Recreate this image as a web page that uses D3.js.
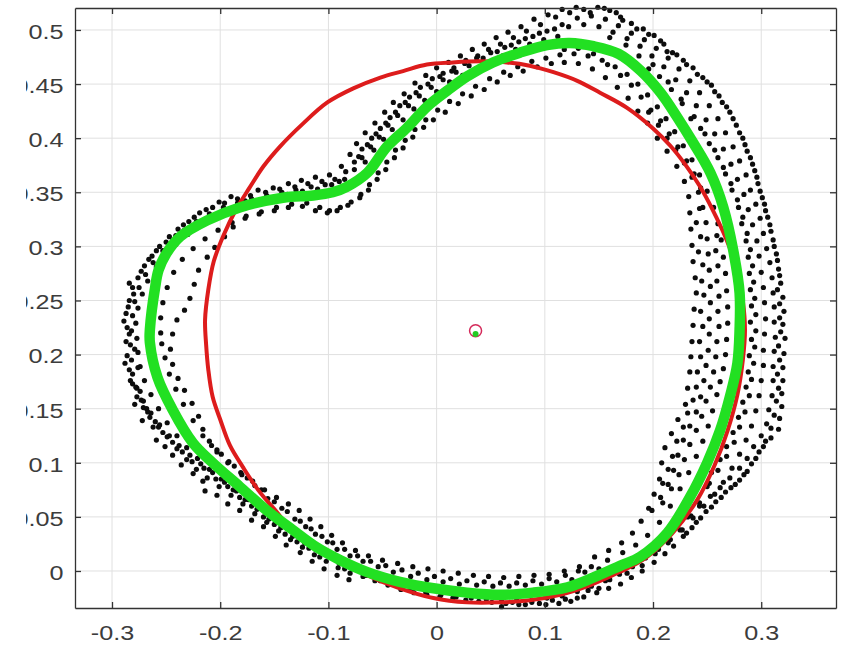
<!DOCTYPE html>
<html>
<head>
<meta charset="utf-8">
<script src="https://cdn.jsdelivr.net/npm/d3@7"></script>
<style>
    body { margin: 0; background: #fff; }
    .tick text { font-family: "Liberation Sans", Arial, sans-serif; font-size: 21px; fill: #3c3c3c; }
</style>
</head>
<body>
<div id="plotDivId"></div>
<script>
// Tick values
var xTicks = [-0.3, -0.2, -0.1, 0, 0.1, 0.2, 0.3];
var yTicks = [0, 0.05, 0.1, 0.15, 0.2, 0.25, 0.3, 0.35, 0.4, 0.45, 0.5];

// Fitted contour (green)
var greenCurve = [[-0.265,0.223],[-0.260,0.263],[-0.257,0.278],[-0.250,0.293],[-0.237,0.309],[-0.212,0.324],[-0.182,0.336],[-0.142,0.345],[-0.114,0.347],[-0.096,0.350],[-0.083,0.355],[-0.064,0.368],[-0.046,0.392],[-0.027,0.410],[-0.009,0.429],[0.010,0.444],[0.028,0.457],[0.052,0.470],[0.077,0.479],[0.102,0.486],[0.123,0.488],[0.145,0.485],[0.168,0.478],[0.189,0.462],[0.207,0.442],[0.222,0.420],[0.237,0.396],[0.253,0.368],[0.265,0.336],[0.274,0.297],[0.280,0.257],[0.280,0.223],[0.278,0.192],[0.271,0.161],[0.262,0.130],[0.250,0.100],[0.234,0.068],[0.213,0.035],[0.188,0.013],[0.170,0.005],[0.145,-0.006],[0.121,-0.015],[0.089,-0.020],[0.059,-0.022],[0.028,-0.020],[-0.003,-0.016],[-0.034,-0.010],[-0.064,-0.001],[-0.089,0.010],[-0.111,0.022],[-0.133,0.038],[-0.157,0.056],[-0.182,0.078],[-0.207,0.100],[-0.225,0.118],[-0.244,0.149],[-0.258,0.179],[-0.265,0.211]];

// Low order contour (red)
var redCurve = [[-0.214,0.232],[-0.211,0.260],[-0.206,0.286],[-0.197,0.310],[-0.186,0.333],[-0.173,0.354],[-0.160,0.374],[-0.145,0.392],[-0.124,0.413],[-0.101,0.433],[-0.077,0.446],[-0.052,0.456],[-0.031,0.462],[-0.009,0.468],[0.015,0.470],[0.040,0.471],[0.065,0.470],[0.086,0.467],[0.108,0.461],[0.130,0.453],[0.151,0.442],[0.176,0.428],[0.200,0.409],[0.216,0.393],[0.231,0.374],[0.243,0.356],[0.255,0.334],[0.268,0.306],[0.278,0.278],[0.283,0.250],[0.285,0.223],[0.283,0.195],[0.278,0.163],[0.269,0.130],[0.257,0.098],[0.241,0.066],[0.218,0.035],[0.193,0.012],[0.169,-0.001],[0.142,-0.013],[0.114,-0.022],[0.086,-0.027],[0.059,-0.029],[0.028,-0.029],[-0.003,-0.025],[-0.034,-0.016],[-0.064,-0.004],[-0.089,0.009],[-0.114,0.024],[-0.136,0.041],[-0.149,0.056],[-0.165,0.075],[-0.179,0.096],[-0.191,0.116],[-0.200,0.140],[-0.207,0.161],[-0.211,0.186],[-0.213,0.209]];

// Centres
var centerRed = [0.036, 0.222];
var centerGreen = [0.036, 0.219];

// Measured points, grouped by region of the band
var scatterOuter = [[-0.286,0.225],[-0.287,0.238],[-0.284,0.250],[-0.281,0.262],[-0.276,0.271],[-0.270,0.282],[-0.263,0.291],[-0.256,0.300],[-0.247,0.309],[-0.239,0.316],[-0.229,0.323],[-0.219,0.331],[-0.207,0.336],[-0.196,0.340],[-0.184,0.344],[-0.172,0.347],[-0.158,0.350],[-0.145,0.353],[-0.131,0.355],[-0.119,0.358],[-0.106,0.360],[-0.094,0.362],[-0.084,0.369],[-0.076,0.378],[-0.069,0.390],[-0.060,0.400],[-0.052,0.409],[-0.043,0.419],[-0.034,0.430],[-0.025,0.438],[-0.015,0.447],[-0.004,0.455],[0.006,0.460],[0.016,0.465],[0.027,0.472],[0.038,0.476],[0.048,0.482],[0.059,0.487],[0.071,0.493],[0.083,0.499],[0.096,0.505],[0.110,0.512],[0.123,0.516],[0.136,0.519],[0.149,0.521],[0.160,0.518],[0.170,0.512],[0.180,0.506],[0.191,0.501],[0.201,0.495],[0.210,0.487],[0.218,0.479],[0.228,0.472],[0.237,0.465],[0.246,0.456],[0.254,0.449],[0.261,0.439],[0.268,0.429],[0.274,0.418],[0.280,0.405],[0.285,0.394],[0.290,0.382],[0.294,0.370],[0.297,0.358],[0.301,0.345],[0.304,0.333],[0.308,0.320],[0.311,0.306],[0.314,0.293],[0.316,0.279],[0.318,0.266],[0.320,0.253],[0.321,0.240],[0.320,0.228],[0.322,0.215],[0.321,0.201],[0.320,0.188],[0.320,0.176],[0.319,0.164],[0.319,0.152],[0.317,0.141],[0.316,0.131],[0.309,0.123],[0.302,0.115],[0.295,0.104],[0.287,0.092],[0.280,0.084],[0.272,0.077],[0.263,0.068],[0.254,0.059],[0.244,0.049],[0.236,0.040],[0.228,0.032],[0.219,0.023],[0.211,0.016],[0.201,0.008],[0.190,0.000],[0.180,-0.006],[0.170,-0.012],[0.159,-0.016],[0.148,-0.020],[0.136,-0.024],[0.124,-0.028],[0.113,-0.030],[0.101,-0.031],[0.088,-0.029],[0.076,-0.031],[0.064,-0.030],[0.060,-0.033],[0.051,-0.029],[0.039,-0.028],[0.027,-0.027],[0.015,-0.025],[0.003,-0.024],[-0.009,-0.022],[-0.021,-0.020],[-0.033,-0.017],[-0.045,-0.013],[-0.057,-0.009],[-0.068,-0.005],[-0.080,-0.002],[-0.091,0.003],[-0.102,0.009],[-0.113,0.015],[-0.124,0.022],[-0.135,0.029],[-0.146,0.037],[-0.157,0.045],[-0.168,0.053],[-0.179,0.062],[-0.190,0.070],[-0.201,0.078],[-0.212,0.086],[-0.222,0.094],[-0.231,0.103],[-0.240,0.113],[-0.249,0.124],[-0.257,0.133],[-0.265,0.142],[-0.271,0.151],[-0.277,0.161],[-0.281,0.173],[-0.284,0.186],[-0.286,0.199],[-0.287,0.212]];

var scatterOuterMid = [[-0.277,0.215],[-0.278,0.229],[-0.276,0.243],[-0.272,0.256],[-0.267,0.268],[-0.259,0.281],[-0.251,0.292],[-0.241,0.302],[-0.230,0.311],[-0.218,0.320],[-0.206,0.327],[-0.193,0.333],[-0.180,0.337],[-0.166,0.341],[-0.152,0.345],[-0.138,0.348],[-0.124,0.351],[-0.110,0.353],[-0.097,0.357],[-0.085,0.362],[-0.076,0.371],[-0.069,0.382],[-0.061,0.392],[-0.053,0.401],[-0.045,0.412],[-0.036,0.421],[-0.026,0.430],[-0.016,0.439],[-0.005,0.447],[0.006,0.454],[0.018,0.461],[0.030,0.467],[0.043,0.474],[0.056,0.480],[0.069,0.486],[0.082,0.492],[0.095,0.497],[0.109,0.501],[0.122,0.503],[0.136,0.505],[0.150,0.503],[0.163,0.498],[0.176,0.492],[0.188,0.485],[0.199,0.476],[0.210,0.466],[0.221,0.454],[0.231,0.442],[0.240,0.430],[0.249,0.417],[0.257,0.404],[0.265,0.390],[0.272,0.376],[0.278,0.362],[0.284,0.348],[0.288,0.334],[0.292,0.320],[0.296,0.305],[0.298,0.291],[0.300,0.276],[0.302,0.262],[0.303,0.248],[0.304,0.233],[0.303,0.219],[0.302,0.204],[0.302,0.190],[0.300,0.176],[0.298,0.162],[0.295,0.148],[0.291,0.134],[0.286,0.121],[0.280,0.108],[0.273,0.095],[0.265,0.082],[0.257,0.071],[0.247,0.060],[0.237,0.049],[0.227,0.038],[0.216,0.029],[0.205,0.020],[0.193,0.012],[0.181,0.004],[0.169,-0.003],[0.156,-0.009],[0.143,-0.014],[0.130,-0.019],[0.116,-0.023],[0.102,-0.025],[0.088,-0.027],[0.074,-0.027],[0.060,-0.028],[0.046,-0.026],[0.032,-0.025],[0.018,-0.024],[0.004,-0.022],[-0.010,-0.020],[-0.024,-0.017],[-0.038,-0.013],[-0.052,-0.009],[-0.065,-0.004],[-0.078,0.002],[-0.090,0.007],[-0.101,0.014],[-0.112,0.020],[-0.122,0.026],[-0.133,0.032],[-0.144,0.040],[-0.155,0.048],[-0.166,0.057],[-0.177,0.066],[-0.188,0.075],[-0.199,0.085],[-0.210,0.094],[-0.221,0.104],[-0.231,0.114],[-0.240,0.125],[-0.249,0.137],[-0.257,0.150],[-0.264,0.163],[-0.270,0.176],[-0.274,0.189],[-0.276,0.202]];

var scatterInner = [[-0.255,0.220],[-0.255,0.234],[-0.253,0.248],[-0.249,0.262],[-0.243,0.276],[-0.235,0.288],[-0.225,0.298],[-0.214,0.307],[-0.202,0.315],[-0.189,0.322],[-0.176,0.328],[-0.162,0.332],[-0.148,0.336],[-0.134,0.339],[-0.120,0.340],[-0.108,0.336],[-0.099,0.333],[-0.089,0.336],[-0.079,0.341],[-0.070,0.348],[-0.062,0.357],[-0.054,0.368],[-0.046,0.378],[-0.038,0.389],[-0.029,0.398],[-0.020,0.408],[-0.010,0.417],[0.001,0.426],[0.012,0.434],[0.024,0.441],[0.036,0.448],[0.049,0.455],[0.062,0.461],[0.075,0.466],[0.088,0.471],[0.101,0.474],[0.114,0.477],[0.127,0.478],[0.140,0.476],[0.153,0.472],[0.165,0.466],[0.176,0.459],[0.186,0.450],[0.195,0.440],[0.204,0.429],[0.212,0.418],[0.220,0.406],[0.228,0.393],[0.236,0.380],[0.243,0.366],[0.250,0.351],[0.256,0.336],[0.260,0.321],[0.263,0.306],[0.265,0.290],[0.267,0.275],[0.268,0.259],[0.269,0.244],[0.269,0.229],[0.268,0.214],[0.267,0.200],[0.265,0.187],[0.262,0.175],[0.259,0.163],[0.255,0.148],[0.251,0.134],[0.246,0.120],[0.240,0.106],[0.233,0.091],[0.225,0.076],[0.216,0.060],[0.206,0.045],[0.195,0.033],[0.184,0.024],[0.172,0.017],[0.158,0.010],[0.143,0.004],[0.131,0.000],[0.119,-0.004],[0.104,-0.007],[0.089,-0.009],[0.074,-0.011],[0.059,-0.011],[0.044,-0.010],[0.028,-0.009],[0.013,-0.007],[-0.002,-0.005],[-0.017,-0.002],[-0.032,0.001],[-0.047,0.005],[-0.061,0.009],[-0.073,0.014],[-0.085,0.020],[-0.096,0.026],[-0.106,0.032],[-0.116,0.039],[-0.126,0.046],[-0.138,0.055],[-0.150,0.064],[-0.162,0.075],[-0.175,0.086],[-0.187,0.097],[-0.199,0.108],[-0.208,0.116],[-0.216,0.125],[-0.225,0.139],[-0.234,0.154],[-0.241,0.168],[-0.247,0.182],[-0.251,0.197],[-0.254,0.210]];

var scatterInnerLap = [[-0.246,0.205],[-0.244,0.219],[-0.240,0.232],[-0.233,0.241],[-0.228,0.252],[-0.224,0.265],[-0.220,0.278],[-0.212,0.290],[-0.205,0.299],[-0.196,0.309],[-0.188,0.318],[-0.177,0.326],[-0.164,0.330],[-0.150,0.333],[-0.137,0.336],[-0.124,0.337],[-0.112,0.333],[-0.101,0.331],[-0.092,0.333],[-0.082,0.338],[-0.071,0.345],[-0.063,0.352],[-0.055,0.362],[-0.047,0.371],[-0.039,0.382],[-0.031,0.391],[-0.022,0.401],[-0.012,0.410],[-0.003,0.417],[0.008,0.424],[0.020,0.432],[0.032,0.439],[0.044,0.445],[0.056,0.452],[0.068,0.458],[0.080,0.462],[0.093,0.466],[0.106,0.469],[0.118,0.470],[0.131,0.469],[0.144,0.464],[0.156,0.456],[0.167,0.447],[0.177,0.437],[0.186,0.425],[0.195,0.414],[0.204,0.400],[0.213,0.388],[0.222,0.374],[0.229,0.360],[0.233,0.346],[0.234,0.331],[0.235,0.316],[0.236,0.301],[0.237,0.286],[0.239,0.271],[0.240,0.257],[0.238,0.242],[0.237,0.227],[0.236,0.212],[0.235,0.198],[0.234,0.184],[0.232,0.169],[0.230,0.154],[0.223,0.140],[0.217,0.127],[0.211,0.114],[0.208,0.100],[0.206,0.085],[0.201,0.071],[0.196,0.058],[0.189,0.046],[0.181,0.035],[0.171,0.026],[0.159,0.019],[0.146,0.013],[0.132,0.004],[0.118,0.000],[0.104,-0.003],[0.090,-0.004],[0.076,-0.005],[0.062,-0.006],[0.048,-0.005],[0.034,-0.004],[0.020,-0.002],[0.006,0.000],[-0.008,0.002],[-0.022,0.004],[-0.036,0.007],[-0.050,0.010],[-0.063,0.014],[-0.075,0.019],[-0.087,0.026],[-0.097,0.033],[-0.107,0.041],[-0.117,0.048],[-0.127,0.056],[-0.137,0.062],[-0.148,0.068],[-0.159,0.075],[-0.170,0.083],[-0.181,0.091],[-0.193,0.100],[-0.203,0.110],[-0.210,0.120],[-0.216,0.131],[-0.220,0.143],[-0.226,0.155],[-0.233,0.167],[-0.239,0.178],[-0.244,0.191]];

var scatterRight = [[0.130,0.511],[0.143,0.513],[0.156,0.510],[0.168,0.504],[0.180,0.497],[0.192,0.491],[0.203,0.483],[0.214,0.474],[0.224,0.464],[0.234,0.453],[0.243,0.442],[0.252,0.430],[0.260,0.418],[0.267,0.405],[0.274,0.392],[0.280,0.379],[0.286,0.366],[0.290,0.352],[0.295,0.339],[0.299,0.326],[0.302,0.312],[0.305,0.298],[0.308,0.285],[0.310,0.271],[0.311,0.257],[0.312,0.244],[0.312,0.230],[0.313,0.216],[0.312,0.203],[0.311,0.189],[0.311,0.176],[0.310,0.162],[0.307,0.149],[0.305,0.136],[0.300,0.125],[0.293,0.115],[0.287,0.104],[0.280,0.095],[0.271,0.086],[0.262,0.077],[0.253,0.069],[0.243,0.060],[0.232,0.050],[0.222,0.040],
    [0.200,0.468],[0.214,0.452],[0.226,0.436],[0.238,0.420],[0.248,0.404],[0.257,0.389],[0.265,0.373],[0.272,0.358],[0.278,0.343],[0.283,0.327],[0.287,0.312],[0.290,0.297],[0.292,0.282],[0.293,0.267],[0.294,0.252],[0.295,0.237],[0.295,0.222],[0.294,0.207],[0.293,0.192],[0.291,0.177],[0.289,0.162],[0.285,0.147],[0.280,0.133],[0.275,0.119],[0.268,0.106],[0.260,0.093],[0.252,0.081],
    [0.196,0.424],[0.205,0.412],[0.213,0.400],[0.221,0.389],[0.229,0.377],[0.236,0.364],[0.242,0.350],[0.246,0.336],[0.249,0.322],[0.250,0.307],[0.251,0.293],[0.252,0.278],[0.253,0.263],[0.253,0.248],[0.252,0.233],[0.252,0.219],[0.251,0.204],[0.249,0.190],[0.247,0.176],[0.244,0.161],[0.240,0.147],[0.234,0.134],[0.228,0.121],[0.223,0.107],[0.219,0.093],[0.214,0.080],[0.207,0.068],[0.199,0.056]];

var scatterLeft = [[-0.282,0.195],[-0.283,0.209],[-0.282,0.222],[-0.281,0.236],[-0.279,0.249],[-0.275,0.262],[-0.269,0.274],[-0.262,0.285],[-0.253,0.296],[-0.244,0.305],[-0.233,0.315],[-0.222,0.323],[-0.210,0.330],[-0.197,0.336],[-0.184,0.340],[-0.171,0.344],[-0.157,0.347],[-0.143,0.350],[-0.130,0.352],[-0.116,0.355],[-0.103,0.357],[-0.090,0.360],
    [-0.281,0.182],[-0.277,0.169],[-0.271,0.157],[-0.264,0.146],[-0.256,0.135],[-0.247,0.125],[-0.238,0.116],[-0.228,0.107],[-0.218,0.099],[-0.207,0.091],[-0.196,0.082],[-0.185,0.074],[-0.174,0.066],[-0.163,0.058],[-0.152,0.050],[-0.141,0.043],[-0.130,0.035],[-0.119,0.028],[-0.108,0.021],[-0.097,0.015],
    [-0.072,0.383],[-0.064,0.394],[-0.056,0.404],[-0.047,0.414],[-0.038,0.424],[-0.029,0.433],[-0.019,0.442],[-0.008,0.450],[0.003,0.457],[0.014,0.462],[0.026,0.469],[0.037,0.474],[0.050,0.479],[0.063,0.484],[0.076,0.489],[0.089,0.494],[0.102,0.499],[0.116,0.505]];

var scatterFillLeft = [[-0.289,0.231],[-0.284,0.219],[-0.279,0.205],[-0.288,0.192],[-0.276,0.188],[-0.283,0.176],[-0.274,0.166],[-0.279,0.154],[-0.268,0.150],[-0.272,0.139],[-0.262,0.133],[-0.259,0.121],[-0.251,0.115],[-0.244,0.107],[-0.236,0.098],[-0.225,0.090],[-0.216,0.083],[-0.214,0.074],[-0.203,0.070],[-0.193,0.062],[-0.182,0.056],[-0.171,0.047],[-0.160,0.041],[-0.149,0.032],[-0.139,0.024],[-0.126,0.017],[-0.115,0.009],[-0.104,0.002],[-0.092,-0.004],[-0.081,-0.008],
    [-0.285,0.244],[-0.280,0.256],[-0.284,0.266],[-0.273,0.277],[-0.266,0.288],[-0.259,0.296],[-0.250,0.304],[-0.241,0.310],[-0.234,0.320],[-0.224,0.327],[-0.213,0.334],[-0.201,0.341],[-0.190,0.346],[-0.177,0.342],[-0.165,0.352],[-0.151,0.354],[-0.137,0.358],[-0.125,0.361],[-0.112,0.364],[-0.099,0.366],[-0.088,0.374],[-0.080,0.385],[-0.074,0.395],[-0.066,0.405],[-0.057,0.414],[-0.048,0.424],[-0.040,0.433],[-0.030,0.441],[-0.020,0.451],[-0.010,0.458],[0.000,0.465],[0.011,0.470],[0.022,0.476],[0.033,0.482],[0.044,0.487],[0.055,0.493],[0.066,0.498],[0.078,0.503],[0.090,0.510],[0.103,0.514],[0.116,0.519],[0.129,0.521],[0.142,0.516],[0.155,0.520],[0.166,0.516]];

var scatterFillRight = [[0.172,0.509],[0.185,0.501],[0.196,0.496],[0.207,0.490],[0.213,0.480],[0.222,0.477],[0.231,0.468],[0.241,0.459],[0.250,0.452],[0.257,0.443],[0.264,0.433],[0.271,0.424],[0.277,0.412],[0.283,0.400],[0.287,0.388],[0.292,0.376],[0.296,0.364],[0.299,0.351],[0.303,0.339],[0.306,0.327],[0.309,0.314],[0.312,0.300],[0.315,0.287],[0.317,0.273],[0.315,0.260],[0.317,0.247],[0.317,0.234],[0.318,0.221],[0.316,0.208],[0.317,0.195],[0.315,0.182],[0.316,0.169],[0.314,0.157],[0.312,0.144],[0.309,0.132],[0.304,0.120],[0.298,0.110],[0.291,0.099],[0.284,0.089],[0.276,0.080],[0.267,0.073],[0.258,0.064],[0.249,0.055],[0.240,0.045],[0.231,0.035],
    [0.160,0.493],[0.175,0.486],[0.187,0.476],[0.196,0.464],[0.206,0.457],[0.217,0.445],[0.227,0.432],[0.235,0.418],[0.244,0.409],[0.252,0.395],[0.260,0.382],[0.267,0.367],[0.273,0.352],[0.279,0.336],[0.282,0.321],[0.286,0.305],[0.288,0.290],[0.289,0.275],[0.290,0.260],[0.291,0.245],[0.290,0.230],[0.291,0.214],[0.289,0.199],[0.288,0.184],[0.286,0.170],[0.283,0.156],[0.279,0.142],[0.274,0.128],[0.268,0.115],[0.262,0.103],[0.254,0.091],[0.250,0.078],[0.243,0.063],[0.235,0.051],[0.225,0.038],[0.214,0.026],[0.202,0.016],[0.190,0.005],[0.176,-0.002]];

var scatterFillInner = [[0.243,0.335],[0.240,0.322],[0.244,0.309],[0.242,0.295],[0.246,0.283],[0.245,0.268],[0.247,0.255],[0.244,0.240],[0.246,0.226],[0.243,0.212],[0.244,0.198],[0.241,0.184],[0.240,0.170],[0.237,0.158],[0.232,0.146],[0.228,0.133],[0.222,0.120],[0.218,0.106],[0.214,0.094],[0.209,0.081],
    [0.259,0.310],[0.258,0.296],[0.260,0.282],[0.259,0.268],[0.261,0.254],[0.260,0.240],[0.261,0.226],[0.259,0.212],[0.258,0.198],[0.256,0.184],[0.253,0.170],[0.249,0.157],[0.245,0.143],[0.240,0.130],[0.234,0.117],[0.229,0.103],[0.224,0.089],[0.217,0.076],[0.209,0.063],
    [0.118,0.482],[0.131,0.483],[0.145,0.478],[0.158,0.468],[0.170,0.458],[0.180,0.449],[0.189,0.438],[0.198,0.426],[0.207,0.416],[0.215,0.404],[0.223,0.392],[0.231,0.379],[0.238,0.367],[0.244,0.354]];

var scatterFillBottom = [[0.160,-0.008],[0.150,-0.016],[0.140,-0.018],[0.130,-0.025],[0.119,-0.026],[0.107,-0.027],[0.095,-0.030],[0.082,-0.031],[0.070,-0.029],
    [0.150,0.002],[0.137,-0.001],[0.125,-0.008],[0.111,-0.010],[0.097,-0.012],[0.082,-0.013],[0.067,-0.014],[0.052,-0.014],[0.037,-0.013],[0.021,-0.012],[0.006,-0.010],[-0.009,-0.008],[-0.024,-0.005],[-0.040,-0.001],[-0.054,0.004],[-0.068,0.009],[-0.080,0.014],[-0.092,0.020],[-0.101,0.027],[-0.112,0.034],[-0.121,0.041],[-0.131,0.048],[-0.143,0.058],[-0.156,0.067],[-0.168,0.079],[-0.180,0.089],[-0.192,0.101],[-0.203,0.112],
    [-0.085,0.002],[-0.108,0.013],[-0.118,0.021],[-0.129,0.027],[-0.140,0.034],[-0.150,0.043],[-0.160,0.050],[-0.171,0.060],[-0.182,0.068],[-0.193,0.078],[-0.204,0.085],[-0.215,0.095],[-0.226,0.101],[-0.235,0.110],[-0.244,0.119],[-0.253,0.128],[-0.260,0.138],[-0.267,0.147],[-0.273,0.158],[-0.278,0.170]];

var scatterFillTop = [[-0.066,0.378],[-0.058,0.389],[-0.049,0.399],[-0.041,0.408],[-0.031,0.417],[-0.021,0.427],[-0.011,0.435],[0.000,0.443],[0.012,0.452],[0.024,0.458],[0.036,0.464],[0.048,0.470],[0.061,0.476],[0.073,0.482],[0.086,0.487],[0.099,0.491],[0.112,0.494]];

var scatter = scatterOuter.concat(scatterOuterMid, scatterInner, scatterInnerLap, scatterRight, scatterLeft,
    scatterFillLeft, scatterFillRight, scatterFillInner, scatterFillBottom, scatterFillTop);

// Canvas and axes box
var canvas = { width: 851, height: 646 };
var box = { left: 75, right: 836, top: 8, bottom: 608 };

var svg = d3.select("#plotDivId")
    .append("svg")
    .attr("width", canvas.width)
    .attr("height", canvas.height)
    .style("display", "block");

var x = d3.scaleLinear()
    .domain([-0.3342, 0.3691])
    .range([box.left, box.right]);
var y = d3.scaleLinear()
    .domain([-0.0342, 0.5203])
    .range([box.bottom, box.top]);

var fmt = function(d) { return String(+d.toFixed(2)); };

// Grid
svg.append("g")
    .selectAll("line")
    .data(xTicks)
    .enter().append("line")
    .attr("x1", function(d) { return x(d); })
    .attr("x2", function(d) { return x(d); })
    .attr("y1", box.top)
    .attr("y2", box.bottom)
    .style("stroke", "#e0e0e0")
    .style("stroke-width", 1);

svg.append("g")
    .selectAll("line")
    .data(yTicks)
    .enter().append("line")
    .attr("x1", box.left)
    .attr("x2", box.right)
    .attr("y1", function(d) { return y(d); })
    .attr("y2", function(d) { return y(d); })
    .style("stroke", "#e0e0e0")
    .style("stroke-width", 1);

// Scatter points
svg.append("g")
    .selectAll("circle")
    .data(scatter)
    .enter().append("circle")
    .attr("cx", function(d) { return x(d[0]); })
    .attr("cy", function(d) { return y(d[1]); })
    .attr("r", 2.6)
    .style("fill", "#0d0d0d");

// Red and green contours
svg.append("path")
    .datum(redCurve)
    .attr("d", d3.line()
        .x(function(d) { return x(d[0]); })
        .y(function(d) { return y(d[1]); })
        .curve(d3.curveCatmullRomClosed))
    .style("fill", "none")
    .style("stroke", "#dd1c1c")
    .style("stroke-width", 4)
    .style("stroke-linejoin", "round");

svg.append("path")
    .datum(greenCurve)
    .attr("d", d3.line()
        .x(function(d) { return x(d[0]); })
        .y(function(d) { return y(d[1]); })
        .curve(d3.curveCatmullRomClosed))
    .style("fill", "none")
    .style("stroke", "#22e022")
    .style("stroke-width", 10.5)
    .style("stroke-linejoin", "round");

// Centre markers
svg.append("circle")
    .attr("cx", x(centerRed[0]))
    .attr("cy", y(centerRed[1]))
    .attr("r", 6)
    .style("fill", "none")
    .style("stroke", "#d42a5a")
    .style("stroke-width", 1.5);

svg.append("circle")
    .attr("cx", x(centerGreen[0]))
    .attr("cy", y(centerGreen[1]))
    .attr("r", 3)
    .style("fill", "#22cc22");

// Axes (ticks point inward, like a boxed plot)
svg.append("g")
    .attr("class", "x axis")
    .attr("transform", "translate(0," + box.bottom + ")")
    .call(d3.axisBottom(x).tickValues(xTicks).tickSizeInner(-6).tickSizeOuter(0).tickPadding(17).tickFormat(fmt))
    .selectAll(".tick text")
    .attr("transform", "scale(1.2,1)");

svg.append("g")
    .attr("transform", "translate(0," + box.top + ")")
    .call(d3.axisTop(x).tickValues(xTicks).tickSizeInner(-6).tickSizeOuter(0).tickFormat(""));

svg.append("g")
    .attr("class", "y axis")
    .attr("transform", "translate(" + box.left + ",0)")
    .call(d3.axisLeft(y).tickValues(yTicks).tickSizeInner(-6).tickSizeOuter(0).tickFormat(fmt))
    .selectAll(".tick text")
    .attr("x", -9.5)
    .attr("dy", "0.4em")
    .attr("transform", "scale(1.2,1)");

svg.append("g")
    .attr("transform", "translate(" + box.right + ",0)")
    .call(d3.axisRight(y).tickValues(yTicks).tickSizeInner(-6).tickSizeOuter(0).tickFormat(""));

svg.selectAll(".domain, .tick line")
    .style("stroke", "#333")
    .style("stroke-width", 1.3);

// The source image is cropped on its left side
svg.append("rect")
    .attr("x", 0)
    .attr("y", 0)
    .attr("width", 26)
    .attr("height", canvas.height)
    .style("fill", "#fff");
</script>
</body>
</html>
